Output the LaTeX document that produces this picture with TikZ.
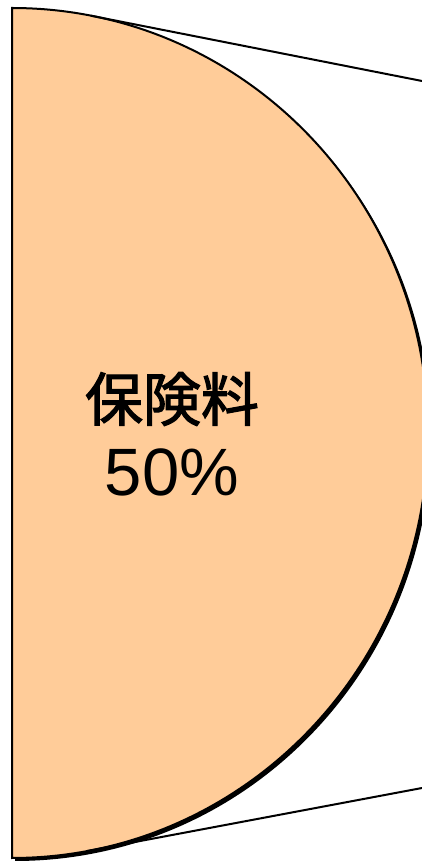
\documentclass[tikz,border=0pt]{standalone}
\usepackage{fontspec}
\setmainfont{Liberation Sans}
\newfontfamily\jpfont[FakeBold=2]{Noto Sans CJK JP}
\usetikzlibrary{calc,positioning}
\definecolor{pie}{RGB}{255,204,153}

\begin{document}
\begin{tikzpicture}[x=1pt,y=1pt,
        slice/.style={fill=pie, draw=black, line width=2pt},
        sliceshadow/.style={fill=black},
        leader/.style={draw=black, line width=2pt},
        jplabel/.style={font=\jpfont\fontsize{58}{60}\selectfont, inner sep=0pt},
        pctlabel/.style={font=\fontsize{67}{70}\selectfont, inner sep=0pt}]
    \useasboundingbox (0,0) rectangle (422,865);
    \coordinate (c) at (12,432);
    \coordinate (top) at (12,857);
    \coordinate (t1) at ($(c)+(79.07:416pt and 425pt)$);
    \coordinate (t2) at ($(c)+(-79.56:416pt and 425pt)$);
    \coordinate (r1) at (422,784);
    \coordinate (r2) at (422,77);
    \fill[sliceshadow] ([shift={(3,-3)}]top) arc[start angle=90, end angle=-90, x radius=416pt, y radius=425pt] -- cycle;
    \filldraw[slice] (top) arc[start angle=90, end angle=-90, x radius=416pt, y radius=425pt] -- cycle;
    \draw[leader] (t1) -- (r1);
    \draw[leader] (t2) -- (r2);
    \node[jplabel] (name) at (172,466) {保険料};
    \node[pctlabel] (pct) at ([yshift=-73pt]name) {50\%};
\end{tikzpicture}
\end{document}
